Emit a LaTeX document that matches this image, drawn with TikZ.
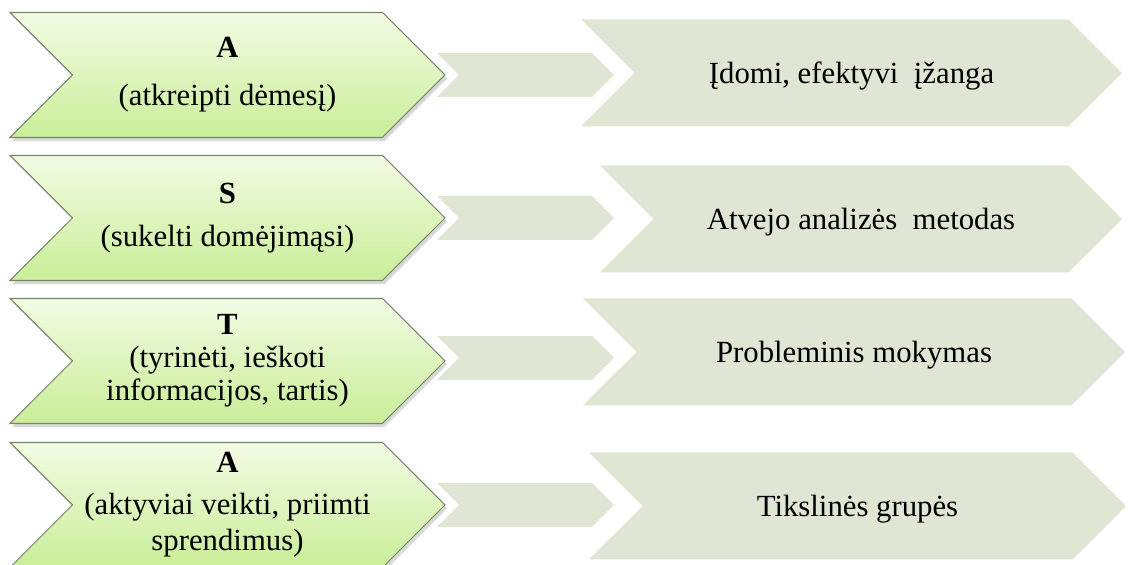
\documentclass[tikz,border=0pt]{standalone}
\usepackage{fontspec}
\setmainfont{Liberation Serif}
\usepackage{tikz}
\usetikzlibrary{shapes.symbols,shadows}
\definecolor{chevtop}{RGB}{243,251,228}
\definecolor{chevbot}{RGB}{201,238,152}
\definecolor{chevline}{RGB}{120,134,108}
\definecolor{chevgrey}{RGB}{223,230,212}
\tikzset{
  stage/.style={shape=signal, signal from=west, signal to=east, draw=chevline,
                line width=0.6pt, top color=chevtop, bottom color=chevbot,
                minimum width=8.7cm, minimum height=2.5cm, inner sep=0pt,
                align=center, font=\fontsize{17.5}{18.8}\selectfont,
                drop shadow={shadow xshift=1.2pt, shadow yshift=-2pt, opacity=0.3}},
  link/.style={shape=signal, signal from=west, signal to=east, fill=chevgrey,
               minimum width=3.54cm, minimum height=0.88cm, inner sep=0pt},
  goal/.style={shape=signal, signal from=west, signal to=east, fill=chevgrey,
               minimum height=2.14cm, inner sep=0pt, align=center, text depth=0pt,
               font=\fontsize{17.5}{18.8}\selectfont}
}

\begin{document}
\begin{tikzpicture}
\useasboundingbox (0,0) rectangle (22.62,-11.3);
% left column
\node[stage] (g1) at (4.55,-1.5) {\textbf{A}\\[0.3cm](atkreipti dėmesį)};
\node[stage] (g2) at (4.55,-4.36) {\textbf{S}\\[0.2cm](sukelti domėjimąsi)};
\node[stage] (g3) at (4.55,-7.22) {\textbf{T}\\(tyrinėti, ieškoti\\informacijos, tartis)};
\node[stage] (g4) at (4.55,-10.1) {\textbf{A}\\[0.18cm](aktyviai veikti, priimti\\[0.06cm]sprendimus)};
% small arrows
\node[link] (m1) at (10.51,-1.5) {};
\node[link] (m2) at (10.51,-4.36) {};
\node[link] (m3) at (10.51,-7.16) {};
\node[link] (m4) at (10.51,-10.1) {};
% right column
\node[goal, minimum width=10.82cm] (r1) at (17.03,-1.46) {Įdomi, efektyvi\ \ įžanga};
\node[goal, minimum width=10.44cm] (r2) at (17.22,-4.38) {Atvejo analizės\ \ metodas};
\node[goal, minimum width=10.84cm] (r3) at (17.08,-7.04) {Probleminis mokymas};
\node[goal, minimum width=10.74cm] (r4) at (17.15,-10.12) {Tikslinės grupės};
\end{tikzpicture}
\end{document}
